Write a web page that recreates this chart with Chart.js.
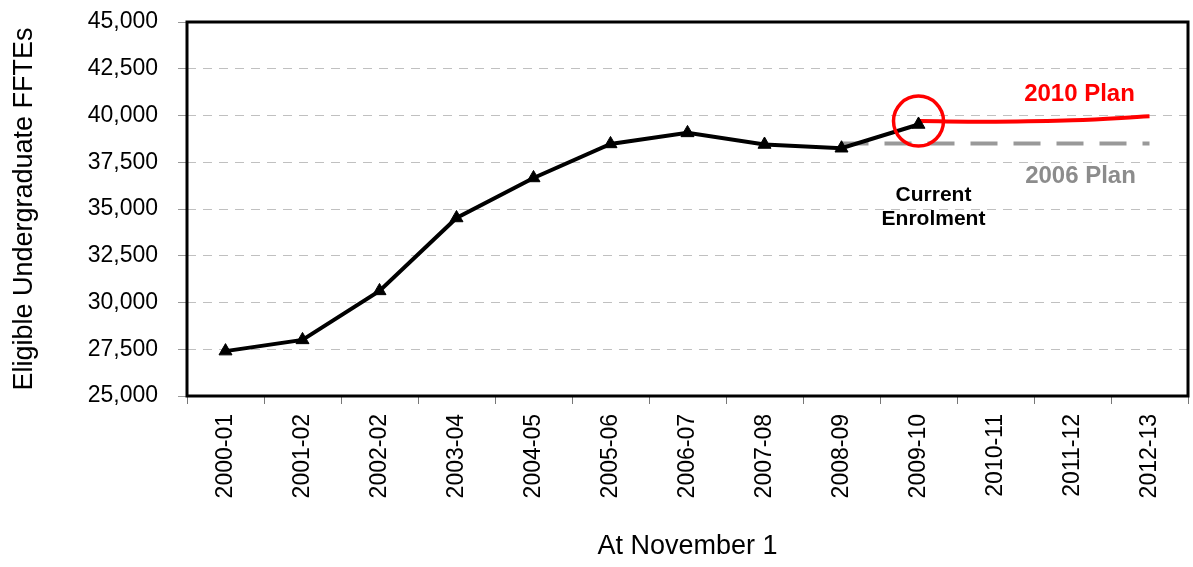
<!DOCTYPE html>
<html>
<head>
<meta charset="utf-8">
<script src="https://cdn.jsdelivr.net/npm/chart.js@4.4.1/dist/chart.umd.min.js"></script>
<style>
  html, body { margin: 0; padding: 0; background: #ffffff; }
  #wrap { width: 1193px; height: 567px; }
</style>
</head>
<body>
<div id="wrap"><canvas id="chart" width="1193" height="567"></canvas></div>
<script>
// Academic years (enrolment counted at November 1)
const categories = ['2000-01', '2001-02', '2002-02', '2003-04', '2004-05', '2005-06', '2006-07',
                    '2007-08', '2008-09', '2009-10', '2010-11', '2011-12', '2012-13'];

// Actual eligible undergraduate FFTEs
const currentEnrolment = [27400, 28000, 30620, 34520, 36660, 38480, 39070, 38450, 38250, 39520, null, null, null];

// Target from the 2010 plan
const plan2010 = [null, null, null, null, null, null, null, null, null, 39700, 39670, 39740, 39960];

// Target from the 2006 plan
const plan2006 = [null, null, null, null, null, null, null, null, 38500, 38500, 38500, 38500, 38500];

// Highlight ring around the latest enrolment figure
const highlight = [null, null, null, null, null, null, null, null, null, 39700, null, null, null];

// Value axis ticks
const yTicks = [25000, 27500, 30000, 32500, 35000, 37500, 40000, 42500, 45000];

const FONT = "'Liberation Sans', Arial, Helvetica, sans-serif";
Chart.defaults.font.family = FONT;
Chart.defaults.color = '#000000';

// Black frame around the plotting area
const framePlugin = {
  id: 'frame',
  beforeDatasetsDraw(chart) {
    const { ctx, chartArea: a } = chart;
    ctx.save();
    ctx.strokeStyle = '#000000';
    ctx.lineWidth = 3;
    ctx.strokeRect(a.left, a.top, a.right - a.left, a.bottom - a.top);
    ctx.restore();
  }
};

// Series captions placed beside the lines
const captionPlugin = {
  id: 'captions',
  afterDatasetsDraw(chart) {
    const { ctx } = chart;
    const x = chart.scales.x, y = chart.scales.y;
    ctx.save();
    ctx.textAlign = 'center';
    ctx.textBaseline = 'alphabetic';

    ctx.font = 'bold 24px ' + FONT;
    ctx.fillStyle = '#ff0000';
    ctx.fillText('2010 Plan', x.getPixelForValue(11) + 7, y.getPixelForValue(40000) - 15);
    ctx.fillStyle = '#8c8c8c';
    ctx.fillText('2006 Plan', x.getPixelForValue(11) + 8, y.getPixelForValue(37500) + 21);

    ctx.font = 'bold 21px ' + FONT;
    ctx.fillStyle = '#000000';
    const cx = x.getPixelForValue(9) + 15;
    ctx.fillText('Current', cx, y.getPixelForValue(35000) - 8);
    ctx.fillText('Enrolment', cx, y.getPixelForValue(35000) + 16);
    ctx.restore();
  }
};

new Chart(document.getElementById('chart'), {
  type: 'line',
  data: {
    labels: categories,
    datasets: [
      {
        label: 'Current Enrolment',
        data: currentEnrolment,
        borderColor: '#000000',
        borderWidth: 4,
        tension: 0,
        pointStyle: 'triangle',
        pointRadius: 7.5,
        pointBorderWidth: 1,
        pointBackgroundColor: '#000000',
        pointBorderColor: '#000000',
        order: 1
      },
      {
        label: '2010 Plan',
        data: plan2010,
        borderColor: '#ff0000',
        borderWidth: 4,
        tension: 0.4,
        pointRadius: 0,
        order: 2
      },
      {
        label: '2006 Plan',
        data: plan2006,
        borderColor: '#999999',
        borderWidth: 4,
        borderDash: [27, 16],
        borderCapStyle: 'butt',
        tension: 0,
        pointRadius: 0,
        order: 3
      },
      {
        label: 'Highlight',
        data: highlight,
        showLine: false,
        pointStyle: 'circle',
        pointRadius: 25,
        pointBorderWidth: 3.5,
        pointBorderColor: '#ff0000',
        pointBackgroundColor: 'rgba(0,0,0,0)',
        order: 0
      }
    ]
  },
  options: {
    responsive: false,
    animation: false,
    events: [],
    layout: { autoPadding: false, padding: { left: 0, right: 5, top: 22, bottom: 0 } },
    plugins: {
      legend: { display: false },
      tooltip: { enabled: false },
      title: { display: false }
    },
    scales: {
      x: {
        type: 'category',
        offset: true,
        border: { display: false },
        grid: {
          offset: true,
          drawOnChartArea: false,
          drawTicks: true,
          tickLength: 8,
          tickColor: '#777777',
          tickWidth: 1
        },
        ticks: {
          autoSkip: false,
          minRotation: 90,
          maxRotation: 90,
          padding: 10,
          color: '#000000',
          font: { size: 23, family: FONT }
        },
        title: {
          display: true,
          text: 'At November 1',
          color: '#000000',
          font: { size: 27, family: FONT },
          padding: { top: 0, bottom: 4 }
        },
        afterFit(scale) {
          scale.height = 171;
          scale.paddingLeft = 0;
          scale.paddingRight = 0;
        }
      },
      y: {
        type: 'linear',
        min: 25000,
        max: 45000,
        border: { display: false, dash: [9, 7] },
        grid: {
          color: '#c0c0c0',
          lineWidth: 1,
          drawTicks: true,
          tickLength: 9,
          tickColor: '#999999',
          tickWidth: 1,
          tickBorderDash: []
        },
        afterBuildTicks(scale) {
          scale.ticks = yTicks.map(v => ({ value: v }));
        },
        ticks: {
          padding: 20,
          color: '#000000',
          font: { size: 23, family: FONT },
          callback: v => v.toLocaleString('en-US')
        },
        title: {
          display: true,
          text: 'Eligible Undergraduate FFTEs',
          color: '#000000',
          font: { size: 27, family: FONT },
          padding: { top: 8, bottom: 0 }
        },
        afterFit(scale) {
          scale.width = 187;
          scale.paddingTop = 0;
          scale.paddingBottom = 0;
        }
      }
    }
  },
  plugins: [framePlugin, captionPlugin]
});
</script>
</body>
</html>
